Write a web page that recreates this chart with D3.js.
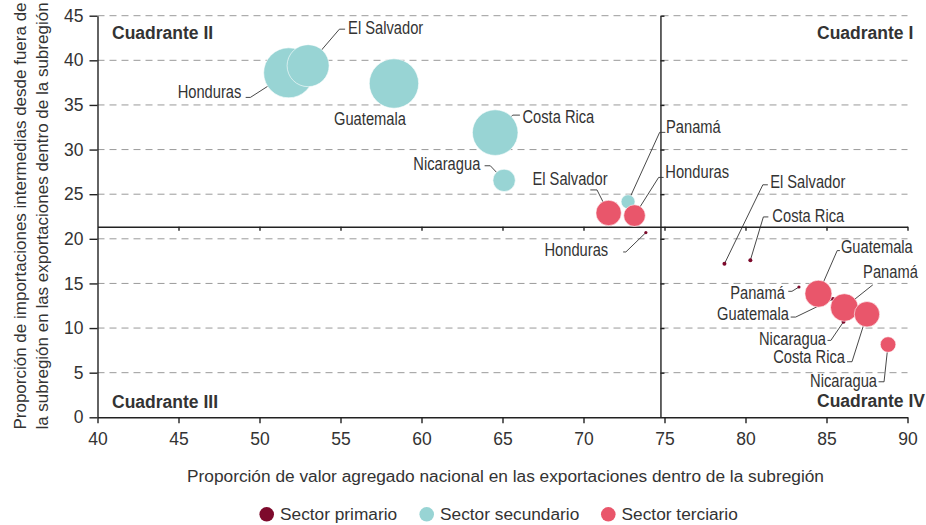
<!DOCTYPE html>
<html>
<head>
<meta charset="utf-8">
<script src="https://cdn.jsdelivr.net/npm/d3@7"></script>
<style>
    body { margin: 0; background: #fff; }
    text { font-family: "Liberation Sans", Arial, sans-serif; fill: #333; }
    .etiqueta { font-size: 17.5px; }
</style>
</head>
<body>
<div id="chart"></div>
<script>
// Sector primario
const priPais = ["El Salvador", "Costa Rica", "Honduras", "Panamá", "Guatemala", "Nicaragua"];
const priVAN = [78.7, 80.3, 73.85, 83.3, 85.4, 86.05];
const priImp = [17.2, 17.6, 20.7, 14.6, 13.25, 10.7];
const priPeso = [0.64, 0.64, 0.4, 0.4, 0.64, 0.64];

// Sector secundario
const secPais = ["Honduras", "El Salvador", "Guatemala", "Costa Rica", "Nicaragua", "Panamá"];
const secVAN = [51.8, 53.0, 58.3, 64.55, 65.1, 72.75];
const secImp = [38.6, 39.4, 37.4, 31.9, 26.55, 24.15];
const secPeso = [100, 70.6, 97.6, 83.2, 20, 7.8];

// Sector terciario
const terPais = ["El Salvador", "Honduras", "Guatemala", "Panamá", "Costa Rica", "Nicaragua"];
const terVAN = [71.55, 73.15, 84.5, 86.1, 87.5, 88.8];
const terImp = [22.9, 22.6, 13.85, 12.3, 11.55, 8.15];
const terPeso = [25.8, 18.7, 29.2, 30.5, 25.8, 9.7];

// cortes de los cuadrantes
const corteX = 74.75;
const corteY = 21.35;

const xTicks = [40, 45, 50, 55, 60, 65, 70, 75, 80, 85, 90];
const yTicks = [0, 5, 10, 15, 20, 25, 30, 35, 40, 45];
const sectores = ["Sector primario", "Sector secundario", "Sector terciario"];
const colores = ["#7d0a2c", "#98d4d4", "#e9566b"];

// label layout: sector, pais, anchor, text dx/dy, elbow dx/dy, end of the short horizontal
const etiquetas = [
    [1, "Honduras", "end", -47.3, 25.6, -38.3, 24.6, -43],
    [1, "El Salvador", "start", 40, -31.8, 31.3, -36.5, 37],
    [1, "Guatemala", "middle", -24, 41.3, null, null, null],
    [1, "Costa Rica", "start", 27.2, -9.2, 17.5, -17.5, 24.7],
    [1, "Nicaragua", "end", -23.8, -10.3, -13.8, -14.6, -19.5],
    [1, "Panamá", "start", 38, -68.4, 31.6, -69.4, 37.3],
    [2, "El Salvador", "end", -1, -28, -11.6, -23, -18.3],
    [2, "Honduras", "start", 30.8, -37.8, 24.1, -38.2, 29.1],
    [2, "Guatemala", "start", 22.5, -40.5, 18.8, -43.1, 21.5],
    [2, "Panamá", "start", 18.8, -29.4, 28.5, -22.7, 28.5],
    [2, "Costa Rica", "end", -22, 49, -15, 47.5, -20],
    [2, "Nicaragua", "end", -11, 42.2, -4, 37.2, -9.5],
    [0, "El Salvador", "start", 45.7, -75.7, 38.4, -79, 43.4],
    [0, "Costa Rica", "start", 22, -38.3, 13, -43.3, 18],
    [0, "Honduras", "end", -37.7, 23.7, -20, 19.4, -22.7],
    [0, "Guatemala", "end", -44, 20.7, -37.3, 18, -42.3],
    [0, "Panamá", "end", -14, 11.6, -7, 4.3, -10.7],
    [0, "Nicaragua", "end", -17.5, 23.3, -12.7, 18.6, -16]
];

const margin = {top: 15.7, left: 97.5, right: 18.5, bottom: 107.7};
const width = 926 - margin.left - margin.right;
const height = 525 - margin.top - margin.bottom;

const svg = d3.select("#chart").append("svg")
    .attr("width", 926)
    .attr("height", 525);

const g = svg.append("g")
    .attr("transform", `translate(${margin.left},${margin.top})`);

const x = d3.scaleLinear().domain([40, 90]).range([0, width]);
const y = d3.scaleLinear().domain([0, 45]).range([height, 0]);
const r = d3.scaleSqrt().domain([0, 100]).range([0, 25]);

function puntos(pais, van, imp, peso, s) {
    return pais.map((p, i) => ({pais: p, van: van[i], imp: imp[i], peso: peso[i], sector: s}));
}
const datos = [
    puntos(priPais, priVAN, priImp, priPeso, 0),
    puntos(secPais, secVAN, secImp, secPeso, 1),
    puntos(terPais, terVAN, terImp, terPeso, 2)
];

// grid
g.append("g").selectAll("line")
    .data(yTicks.filter(d => d > 0))
    .join("line")
    .attr("x1", x(40)).attr("x2", x(90))
    .attr("y1", d => y(d)).attr("y2", d => y(d))
    .attr("stroke", "#9a9a9a")
    .attr("stroke-width", 1)
    .attr("stroke-dasharray", "7,5");

function styleAxis(sel) {
    sel.selectAll("path, line").attr("stroke", "#222").attr("stroke-width", 1.4);
    sel.selectAll("text").attr("fill", "#333").attr("font-size", "17.5px")
        .attr("font-family", "Liberation Sans, Arial, sans-serif");
}

// quadrant lines, drawn as axes with their small ticks
g.append("g")
    .attr("transform", `translate(0,${y(corteY)})`)
    .call(d3.axisBottom(x).tickValues(xTicks.slice(1)).tickSize(4).tickSizeOuter(0).tickFormat(""))
    .call(styleAxis);

g.append("g")
    .attr("transform", `translate(${x(corteX)},0)`)
    .call(d3.axisRight(y).tickValues(yTicks.slice(1)).tickSize(4).tickSizeOuter(0).tickFormat(""))
    .call(styleAxis);

// main axes
g.append("g")
    .attr("transform", `translate(0,${height})`)
    .call(d3.axisBottom(x).tickValues(xTicks).tickSize(6).tickSizeOuter(0))
    .call(styleAxis)
    .call(a => a.selectAll("text").attr("dy", null).attr("y", 27.7));

g.append("g")
    .call(d3.axisLeft(y).tickValues(yTicks).tickSize(8).tickSizeOuter(0).tickPadding(6))
    .call(styleAxis);

// leader lines go under the bubbles
const lideres = g.append("g");
const textos = g.append("g");
etiquetas.forEach(([s, pais, ancla, tx, ty, ex, ey, hx]) => {
    var d = datos[s].find(p => p.pais == pais);
    var px = x(d.van);
    var py = y(d.imp);
    if (ex !== null) {
        lideres.append("path")
            .attr("d", `M${px},${py}L${px + ex},${py + ey}L${px + hx},${py + ey}`)
            .attr("fill", "none")
            .attr("stroke", "#333")
            .attr("stroke-width", 0.9);
    }
    // the reference labels use a condensed face, squeeze a normal one
    textos.append("text")
        .attr("class", "etiqueta")
        .attr("transform", `translate(${px + tx},${py + ty}) scale(0.84,1)`)
        .attr("text-anchor", ancla)
        .text(pais);
});

const burbujas = g.append("g");
datos.forEach((serie, s) => {
    burbujas.append("g").selectAll("circle")
        .data(serie)
        .join("circle")
        .attr("cx", d => x(d.van))
        .attr("cy", d => y(d.imp))
        .attr("r", d => r(d.peso))
        .attr("fill", colores[s])
        .attr("stroke", s == 0 ? "none" : "#fff")
        .attr("stroke-width", 0.6);
});
textos.raise();

// quadrant names
const cuadrantes = [
    ["Cuadrante II", 14.5, 23.3],
    ["Cuadrante I", 719.5, 23.3],
    ["Cuadrante III", 14.5, 392],
    ["Cuadrante IV", 719.5, 391]
];
g.append("g").selectAll("text")
    .data(cuadrantes)
    .join("text")
    .attr("x", d => d[1])
    .attr("y", d => d[2])
    .attr("font-size", "17.5px")
    .attr("font-weight", "bold")
    .attr("fill", "#1a1a1a")
    .text(d => d[0]);

// axis titles
svg.append("text")
    .attr("x", margin.left + width / 2 + 3)
    .attr("y", 481.7)
    .attr("text-anchor", "middle")
    .attr("font-size", "17.3px")
    .text("Proporción de valor agregado nacional en las exportaciones dentro de la subregión");

const yTitulo = ["Proporción de importaciones intermedias desde fuera de",
    "la subregión en las exportaciones dentro de la subregión"];
svg.append("g")
    .attr("transform", "rotate(-90)")
    .selectAll("text")
    .data(yTitulo)
    .join("text")
    .attr("x", -216)
    .attr("y", (d, i) => 25.5 + i * 22.5)
    .attr("text-anchor", "middle")
    .attr("font-size", "17px")
    .text(d => d);

// legend
const leyendaX = [266.7, 426.7, 608.3];
const leyenda = svg.append("g").selectAll("g")
    .data(sectores)
    .join("g")
    .attr("transform", (d, i) => `translate(${leyendaX[i]},514.3)`);
leyenda.append("circle")
    .attr("r", 7.3)
    .attr("fill", (d, i) => colores[i]);
leyenda.append("text")
    .attr("x", 13.3)
    .attr("y", 5.8)
    .attr("font-size", "17.3px")
    .text(d => d);
</script>
</body>
</html>
